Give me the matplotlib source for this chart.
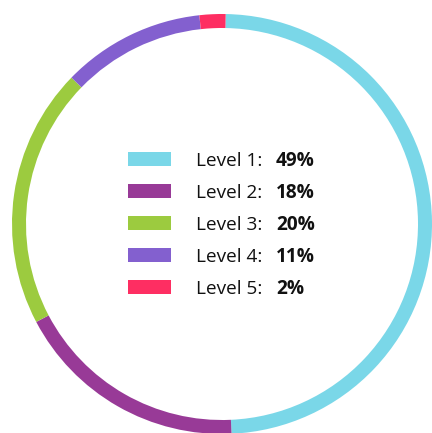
import matplotlib
matplotlib.use("Agg")
import matplotlib.pyplot as plt
from matplotlib.patches import Rectangle

# data
levels = ["Level 1:", "Level 2:", "Level 3:", "Level 4:", "Level 5:"]
shares = [49, 18, 20, 11, 2]
colours = ["#7AD7E8", "#983A97", "#9CCB3F", "#8360CF", "#FE2E62"]

W, H = 432, 433
fig = plt.figure(figsize=(W / 100, H / 100), dpi=100)
ax = fig.add_axes([0, 0, 1, 1])

# thin ring, clockwise from the top
ax.pie(shares, colors=colours, startangle=89, counterclock=False,
       center=(222, H - 224), radius=210,
       wedgeprops=dict(width=14, linewidth=0))

ax.set_aspect("auto")
ax.set_xlim(0, W)
ax.set_ylim(0, H)
ax.axis("off")

# legend block in the middle
font = "Open Sans"
for i, (lab, val, c) in enumerate(zip(levels, shares, colours)):
    yc = H - (159 + 32 * i)
    ax.add_patch(Rectangle((128, yc - 7), 43, 14, facecolor=c, edgecolor="none"))
    ax.text(196, yc - 2, lab, fontsize=13.7, family=font, color="#111111",
            ha="left", va="center")
    ax.text(276, yc - 2, f"{val}%", fontsize=13.7, family=font, weight="bold",
            color="#111111", ha="left", va="center")

fig.savefig("out.png", dpi=100, facecolor="white")
